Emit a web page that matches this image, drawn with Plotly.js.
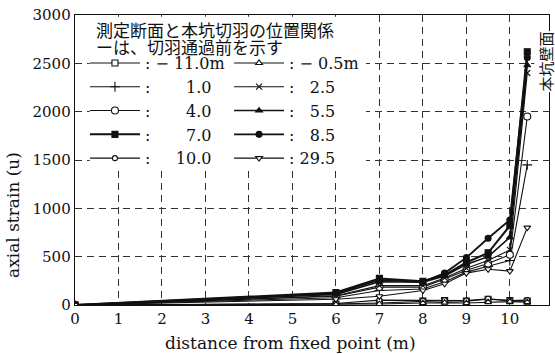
<!DOCTYPE html>
<html>
<head>
<meta charset="utf-8">
<script src="https://cdn.plot.ly/plotly-3.0.1.min.js"></script>
<style>
  html, body { margin: 0; padding: 0; background: #fff; }
  #chart { width: 555px; height: 354px; }
</style>
</head>
<body>
<div id="chart"></div>
<script>
// Measuring points along the extensometer (m from the fixed point)
const distance = [0, 6, 7, 8, 8.5, 9, 9.5, 10, 10.4];

// Axial strain for each section position relative to the face
const strainM110 = [0, 10, 20, 40, 45, 40, 60, 45, 40];
const strainM05  = [0, 5, 10, 20, 25, 20, 30, 35, 30];
const strainP10  = [0, 75, 150, 165, 240, 340, 400, 460, 1450];
const strainP25  = [0, 95, 200, 200, 280, 380, 460, 570, 2400];
const strainP40  = [0, 90, 185, 185, 270, 360, 430, 520, 1950];
const strainP55  = [0, 110, 240, 235, 300, 420, 500, 700, 2480];
const strainP70  = [0, 130, 275, 245, 310, 440, 540, 820, 2620];
const strainP85  = [0, 120, 260, 240, 330, 490, 690, 880, 2560];
const strainP100 = [0, 15, 50, 45, 50, 45, 65, 45, 50];
const strainP295 = [0, 60, 90, 150, 220, 330, 370, 350, 800];

const legendLabels = [
  ': \u2212 11.0m', ': \u2212 0.5m',
  ':\u2007\u2007\u2007 1.0', ':\u2007 2.5',
  ':\u2007\u2007\u2007 4.0', ':\u2007 5.5',
  ':\u2007\u2007\u2007 7.0', ':\u2007 8.5',
  ':\u2007\u2007 10.0', ': 29.5'
];
const xTicks = [0, 1, 2, 3, 4, 5, 6, 7, 8, 9, 10];
const yTicks = [0, 500, 1000, 1500, 2000, 2500, 3000];

const serif = 'DejaVu Serif';
const ink = '#111';

function series(y, name, legend, symbol, filled, size, width) {
  return {
    x: distance, y: y, name: name, legend: legend,
    type: 'scatter', mode: 'lines+markers',
    line: { color: ink, width: width },
    marker: {
      symbol: symbol, size: size,
      color: filled ? ink : '#fff',
      line: { color: ink, width: 1.1 }
    }
  };
}

const traces = [
  series(strainM110, legendLabels[0], 'legend',  'square',        false, 6, 1.1),
  series(strainP10,  legendLabels[2], 'legend',  'cross-thin',    false, 7, 1.1),
  series(strainP40,  legendLabels[4], 'legend',  'circle',        false, 7, 1.1),
  series(strainP70,  legendLabels[6], 'legend',  'square',        true,  6, 2.0),
  series(strainP100, legendLabels[8], 'legend',  'circle',        false, 5, 1.1),
  series(strainM05,  legendLabels[1], 'legend2', 'triangle-up',   false, 6, 1.1),
  series(strainP25,  legendLabels[3], 'legend2', 'x-thin',        false, 6, 1.1),
  series(strainP55,  legendLabels[5], 'legend2', 'triangle-up',   true,  6, 1.6),
  series(strainP85,  legendLabels[7], 'legend2', 'circle',        true,  6, 1.8),
  series(strainP295, legendLabels[9], 'legend2', 'triangle-down', false, 6, 1.1)
];

const legendCommon = {
  orientation: 'v', yanchor: 'top', xanchor: 'left',
  bgcolor: 'rgba(0,0,0,0)', borderwidth: 0,
  itemwidth: 50, tracegroupgap: 0, traceorder: 'normal',
  font: { family: serif, size: 16, color: ink }
};

const layout = {
  width: 555, height: 354,
  margin: { l: 75, r: 6, t: 15, b: 49 },
  paper_bgcolor: '#fff', plot_bgcolor: '#fff',
  showlegend: true,
  legend: Object.assign({}, legendCommon, { x: 0.021, y: 0.893 }),
  legend2: Object.assign({}, legendCommon, { x: 0.325, y: 0.893 }),
  xaxis: {
    range: [0, 10.9], tickvals: xTicks, ticktext: xTicks.map(String),
    showline: true, linecolor: ink, linewidth: 1.3, mirror: true,
    showgrid: true, gridcolor: '#333', gridwidth: 1, griddash: '7px,5px',
    zeroline: false, ticks: '',
    tickfont: { family: serif, size: 15, color: ink }
  },
  yaxis: {
    range: [0, 3000], tickvals: yTicks, ticktext: yTicks.map(String),
    showline: true, linecolor: ink, linewidth: 1.3, mirror: true,
    showgrid: true, gridcolor: '#333', gridwidth: 1, griddash: '7px,5px',
    zeroline: false, ticks: '',
    tickfont: { family: serif, size: 15, color: ink }
  },
  shapes: [{
    // blank panel behind the legend block, hiding the grid there
    type: 'rect', xref: 'paper', yref: 'paper', layer: 'above',
    x0: 0.031, x1: 0.614, y0: 0.466, y1: 0.994,
    fillcolor: '#fff', line: { width: 0 }
  }],
  annotations: [
    {
      text: '測定断面と本坑切羽の位置関係', xref: 'paper', yref: 'paper',
      x: 0.04, y: 0.95, xanchor: 'left', yanchor: 'middle', showarrow: false,
      font: { family: 'Noto Sans CJK JP', size: 17, color: ink }
    },
    {
      text: 'ーは、切羽通過前を示す', xref: 'paper', yref: 'paper',
      x: 0.04, y: 0.892, xanchor: 'left', yanchor: 'middle', showarrow: false,
      font: { family: 'Noto Sans CJK JP', size: 17, color: ink }
    },
    {
      text: '本坑壁面', xref: 'paper', yref: 'paper', textangle: -90,
      x: 0.992, y: 0.84, xanchor: 'center', yanchor: 'middle', showarrow: false,
      bgcolor: '#fff', borderpad: 0,
      font: { family: 'Noto Sans CJK JP', size: 15, color: ink }
    },
    {
      // x-axis title
      text: 'distance from fixed point (m)', xref: 'paper', yref: 'paper',
      x: 0.454, y: -0.13, xanchor: 'center', yanchor: 'middle', showarrow: false,
      font: { family: serif, size: 17, color: ink }
    },
    {
      // y-axis title
      text: 'axial strain (u)', xref: 'paper', yref: 'paper', textangle: -90,
      x: -0.131, y: 0.31, xanchor: 'center', yanchor: 'middle', showarrow: false,
      font: { family: serif, size: 17, color: ink }
    }
  ]
};

Plotly.newPlot('chart', traces, layout, { staticPlot: true });
</script>
</body>
</html>
